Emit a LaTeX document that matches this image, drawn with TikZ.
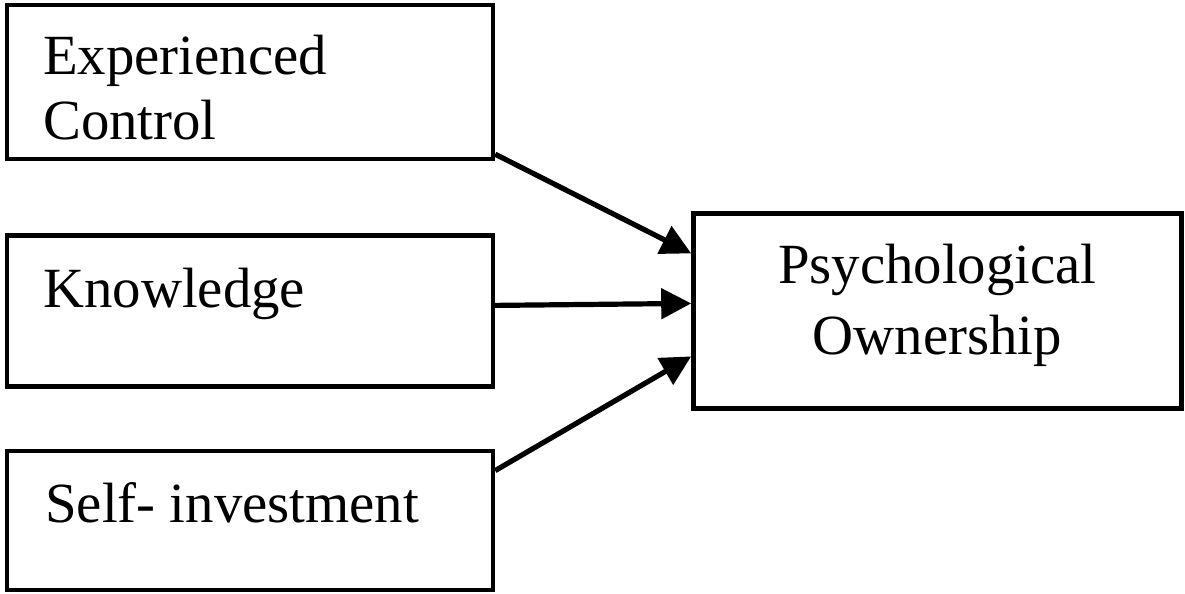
\documentclass[tikz,border=0pt]{standalone}
\usepackage{fontspec}
\setmainfont{Liberation Serif}
\usepackage{tikz}
\usetikzlibrary{calc, arrows.meta, positioning}

\begin{document}
\begin{tikzpicture}[ box/.style={draw, rectangle, line width=2.2pt, minimum width=243pt},
			caption/.style={inner sep=0pt, align=left, font=\fontsize{28.4}{32.5}\selectfont},
			link/.style={line width=2.6pt, -{Triangle[length=15pt, width=15pt]}}
			]
			\useasboundingbox (0,0) rectangle (592.5pt,-297pt);
			
			\node [box, minimum height=77pt](ec) at (125pt,-41pt) {};
			\node [box, minimum height=75.5pt](kn) [below=36pt of ec] {};
			\node [box, minimum height=69.5pt](si) [below=30pt of kn] {};
			
			\node [box, minimum width=244pt, minimum height=97.5pt](po) [right=98pt of kn] {};
			
			\node [caption, anchor=base west](ect) at ([xshift=19pt, yshift=-68.5pt]ec.north west) {Experienced\\Control};
			\node [caption, anchor=base west](knt) at ([xshift=19pt, yshift=-37pt]kn.north west) {Knowledge};
			\node [caption, anchor=base west](sit) at ([xshift=20pt, yshift=-37pt]si.north west) {Self- investment};
			
			\node [caption, align=center, anchor=base](pot) at ([yshift=-71.5pt]po.north) {Psychological\\[3pt]Ownership};
			
			\draw[link] ([yshift=3.5pt]ec.south east) -- ([yshift=28.75pt]po.west);
			
			\draw[link] ([yshift=2.75pt]kn.east) -- ([yshift=3.75pt]po.west);
			
			\draw[link] ([yshift=-11pt]si.north east) -- ([yshift=-22.75pt]po.west);
			
		\end{tikzpicture}
\end{document}
